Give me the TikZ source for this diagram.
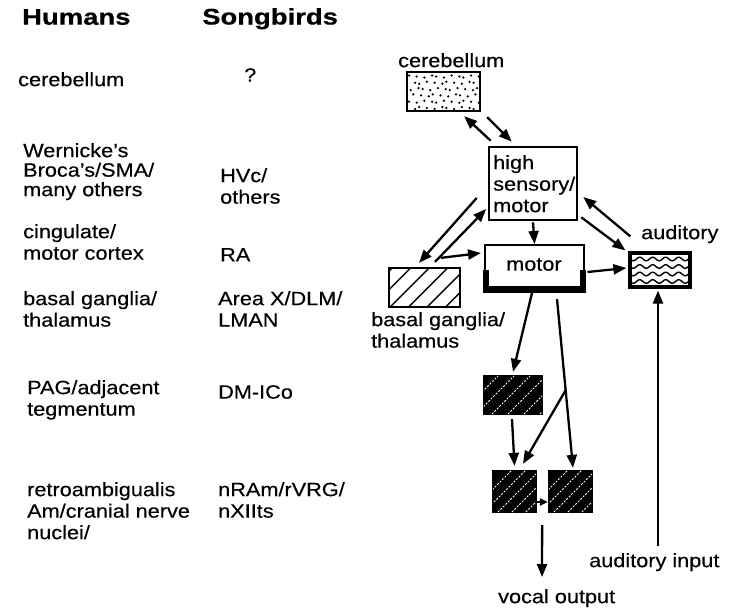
\documentclass[tikz,border=0pt]{standalone}
\usepackage{fontspec}
\setmainfont[FakeStretch=1.13, FakeBold=0.3]{Liberation Sans}
\newfontfamily\headfont[FakeStretch=1.22, FakeBold=0.6]{Liberation Sans}
\usetikzlibrary{arrows.meta,calc}
\begin{document}
\begin{tikzpicture}[x=1pt,y=-1pt,
  txt/.style={inner sep=0pt, anchor=north west, align=left, font=\fontsize{19.2}{21.5}\selectfont},
  head/.style={inner sep=0pt, anchor=north west, font=\headfont\bfseries\fontsize{22.5}{24}\selectfont},
  box/.style={draw, inner sep=0pt, line width=2.3pt},
  arr/.style={line width=2.3pt, -{Triangle[length=13pt,width=10pt]}},
  hatch/.style={line width=1.4pt},
  whitehatch/.style={white, line width=0.9pt, dash pattern=on 2pt off 1.5pt}]
\useasboundingbox (0,0) rectangle (730,608);
\fill[white] (0,0) rectangle (730,608);

% ---- left table ----
\node[head] (hH) at (22,9) {Humans};
\node[head] (hS) at (202,8) {Songbirds};
\node[txt] (l1) at (18,72) {cerebellum};
\node[txt] (r1) at (244,68) {?};
\node[txt, font=\fontsize{19.2}{19.5}\selectfont] (l2) at (23,143) {Wernicke's\\Broca's/SMA/\\many others};
\node[txt] (r2) at (220,168) {HVc/\\others};
\node[txt] (l3) at (23,224) {cingulate/\\motor cortex};
\node[txt] (r3) at (220,248) {RA};
\node[txt] (l4) at (23,291) {basal ganglia/\\thalamus};
\node[txt] (r4) at (218,291) {Area X/DLM/\\LMAN};
\node[txt] (l5) at (27,380) {PAG/adjacent\\tegmentum};
\node[txt] (r5) at (218,385) {DM-ICo};
\node[txt] (l6) at (27,482) {retroambigualis\\Am/cranial nerve\\nuclei/};
\node[txt] (r6) at (218,482) {nRAm/rVRG/\\nXIIts};

% ---- right diagram: boxes ----
\node[box] (cb) at (443.5,91.5) [minimum width=73pt, minimum height=39pt] {};
\node[box, line width=2.6pt] (hs) at (533,183.5) [minimum width=88pt, minimum height=73pt] {};
\node[box, line width=2pt] (mot) at (534.5,268) [minimum width=99pt, minimum height=46pt] {};
\node[box] (bg) at (424.5,287.5) [minimum width=71pt, minimum height=39pt] {};
\node[box, line width=3.2pt] (aud) at (660,270) [minimum width=60pt, minimum height=34pt] {};
\node[box, fill=black] (b1) at (513,395) [minimum width=58pt, minimum height=38pt] {};
\node[box, fill=black] (b2) at (514.5,491.5) [minimum width=43pt, minimum height=41pt] {};
\node[box, fill=black] (b3) at (570.5,491.5) [minimum width=43pt, minimum height=41pt] {};

% cerebellum dots
\begin{scope}
  \clip ([shift={(1pt,1pt)}]cb.south west) rectangle ([shift={(-1pt,-1pt)}]cb.north east);
  \foreach \i in {0,...,5}
    \foreach \j in {0,...,10}
      \fill ({409+\j*6.8+mod(\i*3+\j*5,4)*0.9+mod(\i,2)*3.4},{75.5+\i*6.3+mod(\j*7+\i,3)*1.0}) circle (1.25pt);
\end{scope}

% basal ganglia hatching
\begin{scope}
  \clip ([shift={(1pt,1pt)}]bg.south west) rectangle ([shift={(-1pt,-1pt)}]bg.north east);
  \foreach \x in {353,371.5,...,460}
    \draw[hatch] (\x,307) -- ({\x+39},268);
\end{scope}

% auditory waves
\begin{scope}
  \clip ([shift={(1.5pt,1.5pt)}]aud.south west) rectangle ([shift={(-1.5pt,-1.5pt)}]aud.north east);
  \foreach \yy in {259,266.5,274,281.5}
    \draw[line width=1.4pt] plot[domain=-2:62, samples=60, smooth] ({630+\x},{\yy+1.8*sin(\x*27.7)});
\end{scope}

% black boxes white hatching
\begin{scope}
  \clip ([shift={(1pt,1pt)}]b1.south west) rectangle ([shift={(-1pt,-1pt)}]b1.north east);
  \foreach \x in {460,476,...,560}
    \draw[whitehatch] (\x,414) -- ({\x+38},376);
\end{scope}
\begin{scope}
  \clip ([shift={(1pt,1pt)}]b2.south west) rectangle ([shift={(-1pt,-1pt)}]b2.north east);
  \foreach \x in {470,484,...,560}
    \draw[whitehatch] (\x,512) -- ({\x+41},471);
\end{scope}
\begin{scope}
  \clip ([shift={(1pt,1pt)}]b3.south west) rectangle ([shift={(-1pt,-1pt)}]b3.north east);
  \foreach \x in {526,540,...,620}
    \draw[whitehatch] (\x,512) -- ({\x+41},471);
\end{scope}

% motor box thick bracket
\fill ([shift={(-1pt,-1pt)}]mot.south west) rectangle ([shift={(5pt,22pt)}]mot.south west);
\fill ([shift={(-5pt,-1pt)}]mot.south east) rectangle ([shift={(1pt,22pt)}]mot.south east);
\fill ([shift={(-1pt,-1pt)}]mot.south west) rectangle ([shift={(1pt,6pt)}]mot.south east);

% ---- labels ----
\node[txt] (cbl) at (398,53) {cerebellum};
\node[txt, font=\fontsize{19.2}{21.5}\selectfont] (hst) at (493,155) {high\\sensory/\\motor};
\node[txt] (mott) at (506,258) {motor};
\node[txt] (audl) at (641,225) {auditory};
\node[txt] (bgl) at (371,312) {basal ganglia/\\thalamus};
\node[txt] (ain) at (589,553) {auditory input};
\node[txt] (vol) at (498,589) {vocal output};

% ---- arrows ----
\draw[arr] ([xshift=3pt,yshift=5pt]hs.north west) -- ([xshift=-17pt,yshift=-4pt]cb.south east);
\draw[arr] ([xshift=6pt,yshift=-5pt]cb.south east) -- ([xshift=24pt,yshift=4pt]hs.north west);
\draw[arr] ([yshift=-1pt]hs.south) -- (mot.north);
\draw[arr] ([xshift=-11pt,yshift=-14.5pt]hs.west) -- ([xshift=-5.5pt,yshift=4pt]bg.north);
\draw[arr] ([xshift=10.5pt,yshift=5pt]bg.north) -- ([xshift=-1.5pt,yshift=-25.5pt]hs.west);
\draw[arr] ([xshift=16.5pt,yshift=9pt]bg.north) -- ([xshift=-3pt,yshift=15pt]mot.west);
\draw[arr] ([xshift=2pt,yshift=15pt]aud.north west) -- ([xshift=5pt,yshift=-13.5pt]hs.east);
\draw[arr] ([xshift=3pt,yshift=4pt]hs.south east) -- ([xshift=-3pt,yshift=1pt]aud.north west);
\draw[arr] ([xshift=2.5pt,yshift=-4pt]mot.east) -- ([xshift=-2pt,yshift=2pt]aud.west);
\coordinate (ainc) at (658,546);
\draw[arr] (ainc) -- ([xshift=-2pt,yshift=-2pt]aud.south);
\draw[arr] ([xshift=-2.5pt,yshift=-1pt]mot.south) -- ([yshift=3pt]b1.north);
\coordinate (ls) at ([xshift=22.5pt,yshift=-7pt]mot.south);
\coordinate (le) at ([xshift=2.5pt,yshift=2pt]b3.north);
\draw[arr] (ls) -- (le);
\coordinate (br) at ($(ls)!0.54!(le)$);
\draw[arr] (br) -- ([xshift=8.5pt,yshift=6pt]b2.north);
\draw[arr] ([xshift=-1pt,yshift=-4pt]b1.south) -- ([yshift=4pt]b2.north);
\draw[line width=2pt, -{Triangle[length=8pt,width=7pt]}] ([yshift=-10.5pt]b2.east) -- ([yshift=-10.5pt]b3.west);
\coordinate (voc) at (542,577);
\draw[arr] ([xshift=5pt,yshift=-12pt]b2.south east) -- (voc);
\end{tikzpicture}
\end{document}
